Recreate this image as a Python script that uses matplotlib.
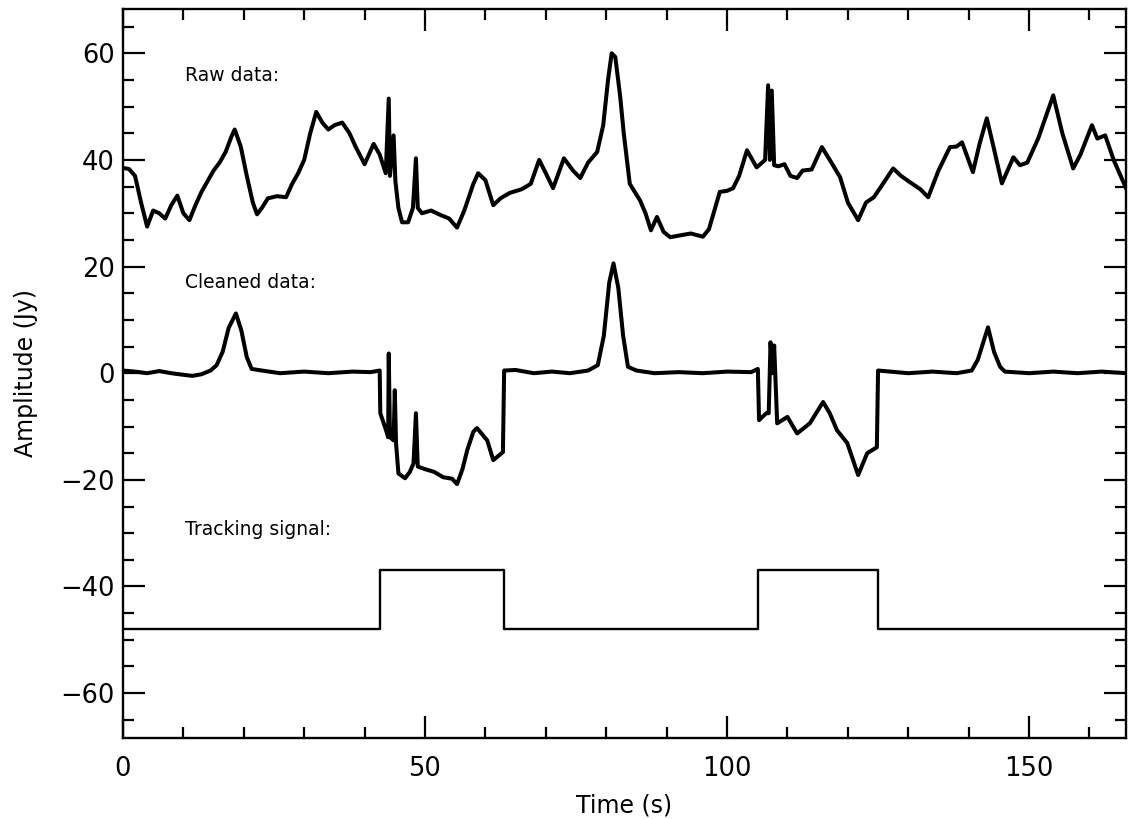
import matplotlib
matplotlib.use("Agg")
import matplotlib.pyplot as plt
from matplotlib.ticker import MultipleLocator

# raw detector signal (Jy)
raw_t = [0, 1, 2, 3, 4, 5, 6, 7, 8, 9, 10, 11, 12, 13, 14, 15, 16, 17, 18, 18.5,
         19.5, 20.5, 21.5, 22.2, 23, 24, 25.5, 27, 28, 29, 30, 31, 32, 33, 34, 35,
         36.3, 37.5, 38.5, 40, 41.5, 42.5, 43.5, 44.0, 44.2, 44.8, 45.1, 45.6, 46.2,
         47.2, 48.0, 48.5, 48.8, 49.5, 51, 52.5, 54, 55.3, 56.5, 58, 58.8, 60, 61.3,
         62.5, 64, 66, 67.5, 68.9, 70, 71.2, 73, 74.5, 75.7, 77, 78.5, 79.5, 80.3,
         80.9, 81.5, 82.3, 82.9, 83.9, 85.6, 86.5, 87.4, 88.4, 89.5, 90.6, 92, 94,
         96, 97, 98.8, 100, 101, 102, 103.3, 104.9, 106.3, 106.8, 107.1, 107.4,
         107.8, 108.5, 109.5, 110.5, 111.6, 112.5, 114, 115.7, 117, 118.7, 120,
         121.7, 123, 124.3, 125.5, 127.5, 128.8, 130.3, 132, 133.3, 135, 136.9, 138,
         138.9, 140.7, 141.8, 143, 144.2, 145.5, 147.4, 148.5, 149.7, 151.5, 154,
         155.5, 157.3, 158.5, 160.4, 161.3, 162.6, 164, 166.2]
raw_v = [38.5, 38.3, 37, 32, 27.5, 30.5, 30, 29, 31.5, 33.3, 30, 28.7, 31.5, 34,
         36, 38, 39.5, 41.5, 44.5, 45.7, 42.5, 37, 32, 29.8, 31, 32.8, 33.2, 33,
         35.5, 37.5, 40, 45, 49, 47, 45.7, 46.5, 47, 45, 42.5, 39.2, 43, 41, 37.5,
         51.5, 37, 44.6, 36, 31, 28.3, 28.3, 31, 40.3, 31, 30, 30.5, 29.7, 29, 27.3,
         30.5, 35.5, 37.5, 36.2, 31.5, 32.8, 33.8, 34.5, 35.5, 40, 37.5, 34.7, 40.3,
         38, 36.6, 39.5, 41.5, 46.5, 55, 60, 59.3, 52, 45, 35.5, 32.4, 30, 26.8,
         29.3, 26.5, 25.5, 25.8, 26.2, 25.6, 27, 34, 34.2, 34.7, 37, 41.8, 38.6, 40,
         54, 40, 53, 39, 38.8, 39.2, 37, 36.6, 38, 38.2, 42.4, 40, 36.8, 32, 28.7,
         32, 33, 35, 38.4, 37, 35.8, 34.5, 33, 38, 42.4, 42.5, 43.3, 37.7, 43, 47.8,
         42, 35.6, 40.5, 39, 39.5, 44, 52.1, 45, 38.4, 41, 46.5, 44, 44.6, 40, 34.3]

# cleaned signal (Jy)
clean_t = [0, 2, 4, 6, 8, 10, 11.5, 13, 14.5, 15.5, 16.5, 17.5, 18.7, 19.6, 20.5,
           21.3, 23, 26, 30, 34, 38, 41, 42.5, 42.6, 43.5, 43.9, 44.0, 44.2, 44.8,
           45.0, 45.2, 45.6, 46.7, 47.5, 48.1, 48.5, 48.8, 50, 51.5, 53, 54.5, 55.3,
           56.2, 57, 58, 58.6, 59.5, 60.3, 61.3, 62.9, 63.1, 65, 68, 71, 74, 77,
           78.6, 79.6, 80.5, 81.2, 82, 82.8, 83.6, 85, 88, 92, 96, 100, 104, 105.1,
           105.3, 106.5, 106.9, 107.2, 107.5, 107.8, 108.3, 110, 111.6, 113.7, 115.9,
           117, 118.2, 119.9, 121.7, 123.2, 124.8, 125.0, 127, 130, 134, 138, 140.5,
           141.5, 143.2, 144.2, 145.2, 146, 150, 154, 158, 162, 166.2]
clean_v = [0.5, 0.3, 0.0, 0.4, 0.0, -0.3, -0.5, -0.2, 0.5, 1.5, 4, 8.5, 11.2, 8,
           3, 0.8, 0.5, 0.0, 0.3, 0.0, 0.3, 0.2, 0.5, -7.5, -10.5, -12, 3.7, -12,
           -12.6, -3.2, -13, -18.8, -19.7, -18.5, -16.9, -7.5, -17.5, -18, -18.5,
           -19.5, -19.8, -20.8, -18, -14.4, -11, -10.3, -11.5, -12.6, -16.3, -14.8,
           0.5, 0.6, 0.0, 0.3, 0.0, 0.5, 1.5, 7, 17, 20.6, 16, 7, 1.2, 0.5, 0.0,
           0.2, 0.0, 0.3, 0.2, 0.8, -8.8, -7.5, -7.5, 5.8, 0, 5.2, -9.4, -8.2, -11.3,
           -9.4, -5.4, -7.5, -10.7, -13.1, -19.1, -15, -13.9, 0.5, 0.3, 0.0, 0.3,
           0.0, 0.5, 2.5, 8.6, 4, 1.2, 0.3, 0.0, 0.3, 0.0, 0.3, 0.0]

# tracking signal (on/off), step edges
track_t = [0, 42.6, 63.0, 105.2, 125.0, 166.5]
track_v = [-48, -37, -48, -37, -48, -48]

plt.rcParams['font.family'] = ['DejaVu Sans']

fig = plt.figure(figsize=(11.28, 8.19), dpi=100)
ax = fig.add_axes([0.109, 0.099, 0.889, 0.890])

ax.plot(raw_t, raw_v, color='black', lw=2.9)
ax.plot(clean_t, clean_v, color='black', lw=2.9)
ax.step(track_t, track_v, where='post', color='black', lw=1.7)

ax.text(10.3, 54.8, 'Raw data:', fontsize=13.5)
ax.text(10.3, 15.9, 'Cleaned data:', fontsize=13.5)
ax.text(10.3, -30.4, 'Tracking signal:', fontsize=13.5)

ax.set_xlim(0, 166)
ax.set_ylim(-68.4, 68.3)
ax.xaxis.set_major_locator(MultipleLocator(50))
ax.xaxis.set_minor_locator(MultipleLocator(10))
ax.yaxis.set_major_locator(MultipleLocator(20))
ax.yaxis.set_minor_locator(MultipleLocator(5))

ax.tick_params(which='both', direction='in', top=True, right=True, width=1.6,
               labelsize=18.5)
ax.tick_params(which='major', length=16)
ax.tick_params(which='minor', length=8)
ax.tick_params(axis='x', pad=13)
ax.tick_params(axis='y', pad=6)
for sp in ax.spines.values():
    sp.set_linewidth(1.7)

ax.set_xlabel('Time (s)', fontsize=17, labelpad=8)
ax.set_ylabel('Amplitude (Jy)', fontsize=17, labelpad=16)

fig.savefig('out.png', dpi=100)
